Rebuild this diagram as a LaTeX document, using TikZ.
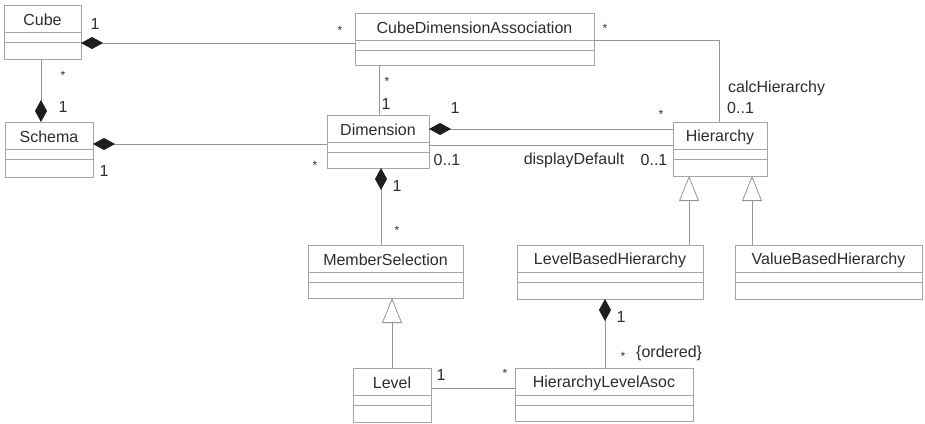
\documentclass[tikz,border=0pt]{standalone}
\usepackage{fontspec}
\setmainfont{Liberation Sans}
\usetikzlibrary{arrows.meta,calc}
\definecolor{linec}{RGB}{150,150,150}
\definecolor{boxc}{RGB}{165,165,165}
\definecolor{txtc}{RGB}{45,45,45}
\definecolor{diac}{RGB}{30,30,30}
\tikzset{
  clsbox/.style={draw=boxc, fill=white, line width=0.8pt, inner sep=0pt, outer sep=0pt, rectangle},
  clstext/.style={font=\fontsize{16}{19}\selectfont, text=txtc, inner sep=0pt},
  lbl/.style={font=\fontsize{16}{19}\selectfont, text=txtc, inner sep=0pt},
  starlbl/.style={font=\fontsize{12}{14}\selectfont, text=txtc, inner sep=0pt},
  assoc/.style={draw=linec, line width=0.8pt},
  comp/.style={draw=linec, line width=0.8pt, arrows={Diamond[length=22pt,width=12pt,color=diac]-}},
  gen/.style={draw=linec, line width=0.8pt, arrows={-Triangle[length=25pt,width=20pt,fill=white,color=linec]}},
}
\newcommand{\umlclass}[6]{%
  \pgfmathsetmacro{\cw}{#4-#2}%
  \pgfmathsetmacro{\ch}{#5-#3}%
  \node[clsbox, minimum width=\cw pt, minimum height=\ch pt] (#1) at ({(#2+#4)/2},{(#3+#5)/2}) {};
  \draw[boxc, line width=0.8pt] ($(#1.north west)+(0,27)$) -- ($(#1.north east)+(0,27)$);
  \draw[boxc, line width=0.8pt] ($(#1.north west)+(0,37)$) -- ($(#1.north east)+(0,37)$);
  \node[clstext] (#1-name) at ($(#1.north)+(0,15)$) {#6};
}
\begin{document}
\begin{tikzpicture}[x=1pt,y=-1pt]
\useasboundingbox[fill=white] (0,0) rectangle (925,423);
% classes
\umlclass{cube}{4}{5}{81}{59}{Cube}
\umlclass{schema}{5}{122}{93}{177}{Schema}
\umlclass{cda}{355}{13}{594}{65}{CubeDimensionAssociation}
\umlclass{dim}{327}{115}{429}{168}{Dimension}
\umlclass{hier}{673}{122}{767}{176}{Hierarchy}
\umlclass{ms}{308}{245}{463}{298}{MemberSelection}
\umlclass{lbh}{517}{245}{703}{299}{LevelBasedHierarchy}
\umlclass{vbh}{735}{245}{922}{299}{ValueBasedHierarchy}
\umlclass{level}{353}{368}{431}{422}{Level}
\umlclass{hla}{515}{368}{693}{421}{HierarchyLevelAsoc}
% anchor points on borders
\path ($(hier.south west)+(16,0)$) coordinate (c9)
      ($(hier.south west)+(79,0)$) coordinate (c10);
% connectors
\draw[comp] ($(cube.north east)+(0,38)$) coordinate (c1) -- (c1 -| cda.west);
\draw[comp] ($(schema.north west)+(36,0)$) coordinate (c2) -- (c2 |- cube.south);
\draw[comp] ($(schema.north east)+(0,22)$) coordinate (c3) -- (c3 -| dim.west);
\draw[assoc] ($(cda.south west)+(24,0)$) coordinate (c4) -- (c4 |- dim.north);
\draw[assoc] ($(cda.north east)+(0,27)$) -| ($(hier.north west)+(46,0)$) coordinate (c5);
\draw[comp] ($(dim.north east)+(0,14)$) coordinate (c6) -- (c6 -| hier.west);
\draw[assoc] ($(dim.north east)+(0,30)$) coordinate (c7) -- (c7 -| hier.west);
\draw[comp] ($(dim.south west)+(54,0)$) coordinate (c8) -- (c8 |- ms.north);
\draw[gen] (c9 |- lbh.north) -- (c9);
\draw[gen] (c10 |- vbh.north) -- (c10);
\draw[comp] ($(lbh.south west)+(88,0)$) coordinate (c11) -- (c11 |- hla.north);
\draw[gen] ($(level.north west)+(39,0)$) coordinate (c12) -- (c12 |- ms.south);
\draw[assoc] ($(level.north east)+(0,20)$) coordinate (c13) -- (c13 -| hla.west);
% multiplicities and role names
\node[lbl] (m1) at (95,24) {1};
\node[starlbl] (m2) at (340,30) {*};
\node[starlbl] (m3) at (63,75) {*};
\node[lbl] (m4) at (63,107) {1};
\node[lbl] (m5) at (104,171) {1};
\node[starlbl] (m6) at (315,165) {*};
\node[starlbl] (m7) at (387,81) {*};
\node[lbl] (m8) at (386,104) {1};
\node[lbl] (m9) at (455,108) {1};
\node[starlbl] (m10) at (661,114) {*};
\node[lbl] (m11) at (447,160) {0..1};
\node[lbl] (m12) at (574,160) {displayDefault};
\node[lbl] (m13) at (654,160) {0..1};
\node[starlbl] (m14) at (605,28) {*};
\node[lbl, anchor=west] (m15) at (728,88) {calcHierarchy};
\node[lbl, anchor=west] (m16) at (727,108) {0..1};
\node[lbl] (m17) at (397,186) {1};
\node[starlbl] (m18) at (397,230) {*};
\node[lbl] (m19) at (621,317) {1};
\node[starlbl] (m20) at (623,356) {*};
\node[lbl, anchor=west] (m21) at (636,353) {\{ordered\}};
\node[lbl] (m22) at (441,375) {1};
\node[starlbl] (m23) at (505,373) {*};
\end{tikzpicture}
\end{document}
